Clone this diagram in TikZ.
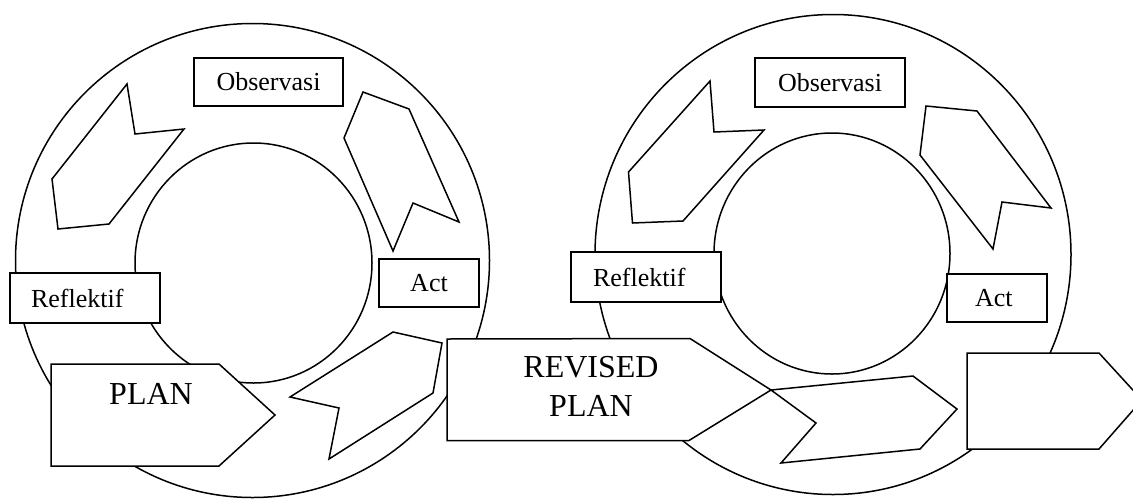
\documentclass[tikz,border=0pt]{standalone}
\usepackage{fontspec}
\setmainfont{Liberation Serif}
\begin{document}
\begin{tikzpicture}[x=1pt,y=-1pt,
  ol/.style={line width=1.5pt},
  blk/.style={draw, fill=white, line width=1.5pt, line join=miter},
  lbl/.style={draw, fill=white, line width=1.5pt, rectangle, inner sep=0pt, font=\fontsize{26}{30}\selectfont},
  lbll/.style={lbl, align=left},
  big/.style={font=\fontsize{32}{39}\selectfont, align=center, inner sep=0pt}]
\fill[white] (0,0) rectangle (1133,499);
\useasboundingbox (0,0) rectangle (1133,499);
% ---- left cycle ----
\draw[ol] (252.5,260.5) circle[radius=237pt];
\draw[ol] (253.5,263) ellipse[x radius=118.5pt, y radius=120pt];
% ---- right cycle ----
\draw[ol] (833,254.5) ellipse[x radius=238pt, y radius=240pt];
\draw[ol] (832,253.5) ellipse[x radius=118pt, y radius=120.5pt];
% ---- left cycle arrows ----
\draw[blk] (127,84) -- (135,134) -- (184,129) -- (109,224) -- (58,229) -- (52,179) -- cycle;
\draw[blk] (363,92) -- (409,109) -- (459,222) -- (413,203) -- (393,251) -- (344,138) -- cycle;
\draw[blk] (393,332) -- (442,343) -- (433,393) -- (329,459) -- (339,408) -- (290,397) -- cycle;
% ---- right cycle arrows ----
\draw[blk] (710,81) -- (714,132) -- (764,130) -- (683,221) -- (632.5,223) -- (628.5,172) -- cycle;
\draw[blk] (926,106) -- (977,111) -- (1051,208) -- (1002,202) -- (993,249) -- (920,155) -- cycle;
\draw[blk] (771,390) -- (913,376) -- (957,409) -- (920,449) -- (781,463) -- (816,423) -- cycle;
% ---- pentagons ----
\draw[blk] (51,364) -- (219,364) -- (275,415) -- (219,466) -- (51,466) -- cycle;
\node[big] (plan) at (151,394) {PLAN};
\draw[blk] (447,339) -- (690,338.5) -- (771,390) -- (689,440.5) -- (447,440.5) -- cycle;
\node[big] (revised) at (591,386) {REVISED\\PLAN};
\draw[blk] (967,353) -- (1099,353) -- (1142,400) -- (1099,449) -- (967,449) -- cycle;
% ---- label boxes ----
\node[lbl, minimum width=149pt, minimum height=48pt] (obsL) at (268.5,82) {Observasi};
\node[lbl, minimum width=100pt, minimum height=48pt] (actL) at (429,283) {Act};
\node[lbll, text width=108pt, inner xsep=21pt, minimum height=50pt] (refL) at (85,298) {Reflektif};
\node[lbl, minimum width=150pt, minimum height=49pt] (obsR) at (830,82.5) {Observasi};
\node[lbll, text width=106pt, inner xsep=22pt, minimum height=50pt] (refR) at (646,277) {Reflektif};
\node[lbll, text width=72pt, inner xsep=14pt, minimum height=48pt] (actR) at (997,298) {\hspace*{14pt}Act};
\end{tikzpicture}
\end{document}
